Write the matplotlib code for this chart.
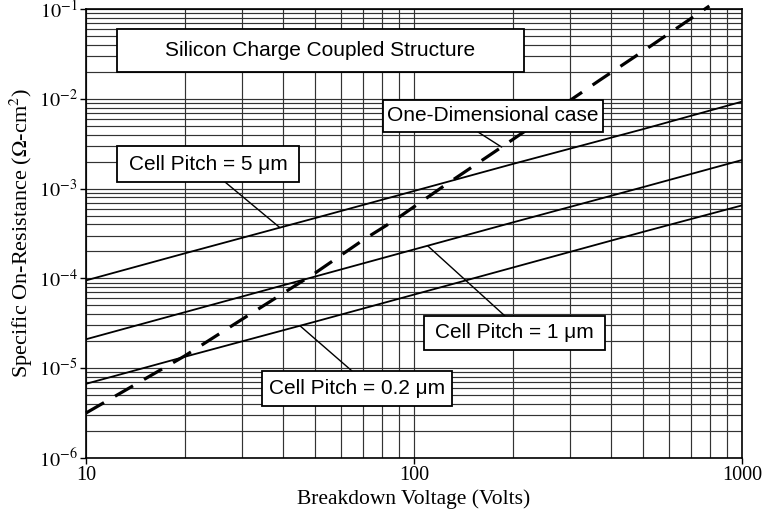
import matplotlib

matplotlib.use("Agg")
import matplotlib.pyplot as plt
import numpy as np
from matplotlib.patches import Rectangle
from matplotlib.ticker import FixedLocator, NullFormatter

plt.rcParams["font.family"] = ["Liberation Serif", "DejaVu Serif"]
plt.rcParams["mathtext.fontset"] = "stix"

# breakdown voltage (V) and specific on-resistance (ohm-cm^2)
v_pitch = [10, 20, 50, 100, 200, 500, 1000]
ron_5um = [9.5e-5, 1.9e-4, 4.7e-4, 9.4e-4, 1.88e-3, 4.6e-3, 9.3e-3]
ron_1um = [2.1e-5, 4.2e-5, 1.05e-4, 2.1e-4, 4.2e-4, 1.04e-3, 2.08e-3]
ron_02um = [6.7e-6, 1.34e-5, 3.3e-5, 6.6e-5, 1.32e-4, 3.3e-4, 6.5e-4]

v_1d = [10, 20, 30, 50, 70, 87.5, 122, 185, 369, 500, 795]
ron_1d = [3.17e-6, 1.37e-5, 3.53e-5, 1.15e-4, 2.68e-4, 4.47e-4, 1.04e-3, 2.9e-3, 1.62e-2, 3.4e-2, 1.08e-1]

x_ticks = [10, 100, 1000]
x_tick_labels = ["10", "100", "1000"]
y_ticks = [1e-6, 1e-5, 1e-4, 1e-3, 1e-2, 1e-1]
y_tick_labels = [r"$10^{-6}$", r"$10^{-5}$", r"$10^{-4}$", r"$10^{-3}$", r"$10^{-2}$", r"$10^{-1}$"]

# label text, box (left, top, right, bottom in pixels), pointer start (px) and target voltage
labels = [
    ("Silicon Charge Coupled Structure", (117, 29, 524, 72), None, None, None),
    ("One-Dimensional case", (383, 100, 603, 132), (478, 132), 185, "1d"),
    ("Cell Pitch = 5 \u03bcm", (117, 146, 299, 182), (225, 182), 39.0, "5"),
    ("Cell Pitch = 1 \u03bcm", (424, 316, 605, 350), (505, 316), 110, "1"),
    ("Cell Pitch = 0.2 \u03bcm", (262, 371, 452, 406), (352, 371), 44.9, "0.2"),
]

W, H = 766, 520
AX_L, AX_R, AX_T, AX_B = 86, 742, 9, 458


def _ax_frac(px, py):
    return (px - AX_L) / (AX_R - AX_L), (AX_B - py) / (AX_B - AX_T)


def _on_curve(v, xs, ys):
    return 10 ** np.interp(np.log10(v), np.log10(xs), np.log10(ys))


fig = plt.figure(figsize=(W / 100, H / 100), dpi=100)
ax = fig.add_axes([AX_L / W, 1 - AX_B / H, (AX_R - AX_L) / W, (AX_B - AX_T) / H])
ax.set_xscale("log")
ax.set_yscale("log")
ax.set_xlim(10, 1000)
ax.set_ylim(1e-6, 1e-1)

ax.xaxis.set_minor_locator(FixedLocator([m * d for d in (10, 100) for m in range(2, 10)]))
ax.yaxis.set_minor_locator(FixedLocator([m * 10.0**e for e in range(-6, -1) for m in range(2, 10)]))
ax.xaxis.set_minor_formatter(NullFormatter())
ax.yaxis.set_minor_formatter(NullFormatter())
ax.set_xticks(x_ticks, labels=x_tick_labels)
ax.set_yticks(y_ticks, labels=y_tick_labels)
ax.tick_params(which="major", direction="out", length=4, width=1.0, labelsize=14.5, pad=2)
ax.tick_params(which="minor", length=0)
ax.grid(True, which="both", color="#333333", linewidth=0.85)
ax.set_axisbelow(True)
for spine in ax.spines.values():
    spine.set_linewidth(1.2)

curves = {"5": (v_pitch, ron_5um), "1": (v_pitch, ron_1um), "0.2": (v_pitch, ron_02um), "1d": (v_1d, ron_1d)}
for key in ("5", "1", "0.2"):
    xs, ys = curves[key]
    ax.plot(xs, ys, color="black", linewidth=1.3, zorder=3)
ax.plot(v_1d, ron_1d, color="black", linewidth=2.3, dashes=(6.5, 4.0), zorder=3, clip_on=False)

ax.set_xlabel("Breakdown Voltage (Volts)", fontsize=15.5, labelpad=3)
ax.set_ylabel(r"Specific On-Resistance ($\Omega$-cm$^2$)", fontsize=16, labelpad=3)

for text, (l, t, r, b), start, v_target, key in labels:
    x0, y1 = _ax_frac(l, t)
    x1, y0 = _ax_frac(r, b)
    if start is not None:
        xs, ys = curves[key]
        sx, sy = _ax_frac(*start)
        ax.annotate(
            "",
            xy=(v_target, _on_curve(v_target, xs, ys)),
            xycoords="data",
            xytext=(sx, sy),
            textcoords="axes fraction",
            arrowprops=dict(arrowstyle="-", color="black", linewidth=1.0, shrinkA=0, shrinkB=0),
            zorder=4,
        )
    ax.add_patch(
        Rectangle((x0, y0), x1 - x0, y1 - y0, transform=ax.transAxes, facecolor="white",
                  edgecolor="black", linewidth=1.3, zorder=5)
    )
    ax.text((x0 + x1) / 2, (y0 + y1) / 2, text, transform=ax.transAxes, ha="center", va="center",
            fontsize=15, family=["Liberation Sans", "DejaVu Sans"], zorder=6)

fig.savefig("out.png", dpi=100)
